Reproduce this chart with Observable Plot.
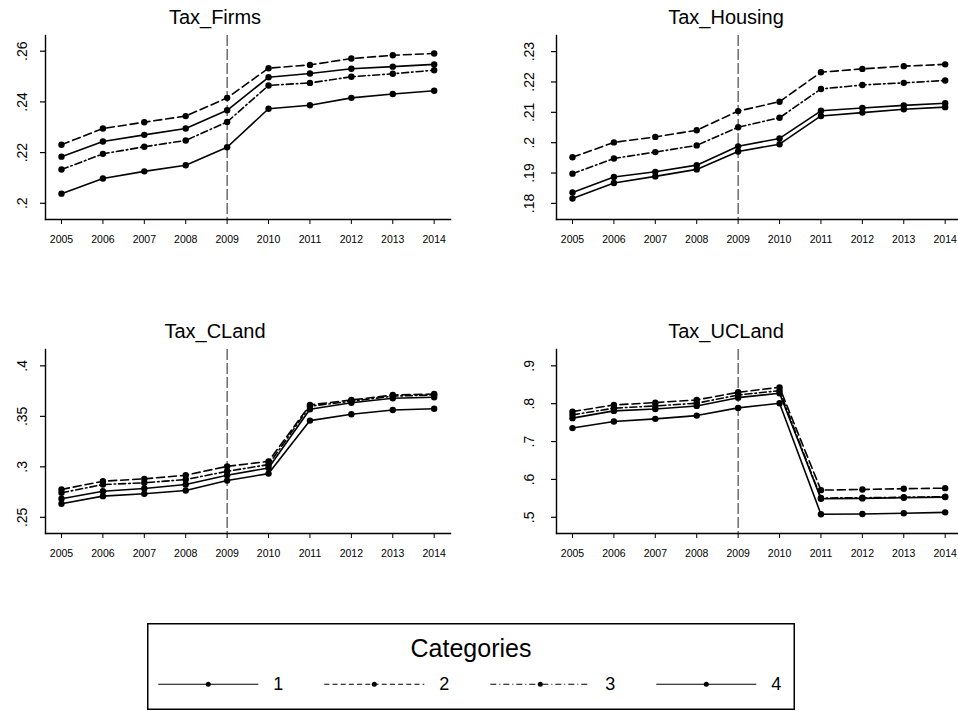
<!DOCTYPE html>
<html><head><meta charset="utf-8">
<script src="https://cdn.jsdelivr.net/npm/d3@7"></script>
<script src="https://cdn.jsdelivr.net/npm/@observablehq/plot@0.6"></script>
<style>
body{margin:0;background:#fff;}
#chart{position:relative;width:958px;height:711px;overflow:hidden;background:#fff;font-family:"Liberation Sans",Arial,Helvetica,sans-serif;}
.panel{position:absolute;}
#legend{position:absolute;left:147px;top:623px;width:648px;height:87px;}
</style></head><body><div id="chart"></div>
<script>
// ---- data ----
const years = [2005, 2006, 2007, 2008, 2009, 2010, 2011, 2012, 2013, 2014];
const categories = ["1", "2", "3", "4"];
const breakYear = 2009;
const legendTitle = "Categories";

const panelTitles = ["Tax_Firms", "Tax_Housing", "Tax_CLand", "Tax_UCLand"];

const firmsTicks = [0.2, 0.22, 0.24, 0.26];
const housingTicks = [0.18, 0.19, 0.2, 0.21, 0.22, 0.23];
const clandTicks = [0.25, 0.3, 0.35, 0.4];
const uclandTicks = [0.5, 0.6, 0.7, 0.8, 0.9];

const firms1 = [.2184,.2244,.2270,.2295,.2367,.2497,.2512,.2531,.2539,.2548];
const firms2 = [.2231,.2295,.2320,.2344,.2416,.2533,.2546,.2571,.2584,.2591];
const firms3 = [.2133,.2195,.2223,.2248,.2321,.2465,.2475,.2499,.2511,.2525];
const firms4 = [.2038,.2098,.2126,.2150,.2221,.2373,.2387,.2416,.2431,.2444];

const housing1 = [.1836,.1887,.1904,.1926,.1988,.2014,.2105,.2114,.2123,.2130];
const housing2 = [.1952,.2001,.2019,.2041,.2104,.2135,.2232,.2243,.2252,.2258];
const housing3 = [.1898,.1948,.1969,.1991,.2051,.2082,.2177,.2190,.2197,.2205];
const housing4 = [.1816,.1867,.1889,.1912,.1971,.1995,.2088,.2099,.2110,.2117];

const cland1 = [.2684,.2759,.2786,.2825,.2917,.2989,.3570,.3635,.3679,.3689];
const cland2 = [.2776,.2858,.2881,.2917,.3005,.3054,.3613,.3662,.3711,.3721];
const cland3 = [.2743,.2825,.2842,.2874,.2956,.3022,.3600,.3650,.3700,.3712];
const cland4 = [.2635,.2710,.2733,.2766,.2864,.2933,.3458,.3521,.3563,.3576];

const ucland1 = [.7618,.7810,.7860,.7941,.8159,.8275,.5491,.5499,.5517,.5533];
const ucland2 = [.7791,.7967,.8028,.8099,.8301,.8432,.5717,.5735,.5754,.5770];
const ucland3 = [.7705,.7881,.7941,.8012,.8230,.8343,.5510,.5515,.5530,.5545];
const ucland4 = [.7356,.7529,.7600,.7686,.7889,.8012,.5079,.5087,.5105,.5131];

// ---- styling / layout ----
const dashes = [null, "8,4", "7,3,1.5,3", null];
const font = '"Liberation Sans", Arial, Helvetica, sans-serif';

const panels = [
  {title: panelTitles[0], left: 0,     top: 0,     ticks: firmsTicks,   domain: [0.1936, 0.2662], labelDx: -23, series: [firms1, firms2, firms3, firms4]},
  {title: panelTitles[1], left: 510.7, top: 0,     ticks: housingTicks, domain: [0.1747, 0.2353], labelDx: -26.5, series: [housing1, housing2, housing3, housing4]},
  {title: panelTitles[2], left: 0,     top: 314.3, ticks: clandTicks,   domain: [0.2340, 0.4162], labelDx: -23, series: [cland1, cland2, cland3, cland4]},
  {title: panelTitles[3], left: 510.7, top: 314.3, ticks: uclandTicks,  domain: [0.4572, 0.9431], labelDx: -26.5, series: [ucland1, ucland2, ucland3, ucland4]}
];

const fmt = d => String(d).replace(/^0/, "");
const chart = document.getElementById("chart");

for (const p of panels) {
  const data = categories.flatMap((c, i) => years.map((yr, j) => ({year: yr, value: p.series[i][j], cat: c})));
  const lineMarks = categories.map((c, i) => Plot.line(data.filter(d => d.cat === c), {
    x: "year", y: "value", stroke: "#000", strokeWidth: 1.6,
    strokeDasharray: dashes[i] || undefined
  }));
  const svg = Plot.plot({
    width: 479, height: 270,
    marginLeft: 45, marginRight: 29, marginTop: 35, marginBottom: 51,
    style: {fontFamily: font, background: "transparent", overflow: "visible", color: "#000"},
    x: {domain: [2004.614, 2014.394], label: null},
    y: {domain: p.domain, label: null},
    marks: [
      Plot.ruleX([breakYear], {stroke: "#222", strokeWidth: 1, strokeDasharray: "11,3"}),
      Plot.frame({anchor: "left", stroke: "#000", strokeWidth: 1.4}),
      Plot.frame({anchor: "bottom", stroke: "#000", strokeWidth: 1.4}),
      Plot.axisX({ticks: years, tickFormat: d => String(d), tickSize: 5, tickPadding: 11, fontSize: 10.5, strokeWidth: 1, label: null}),
      Plot.axisY({ticks: p.ticks, tickSize: 5, tickFormat: () => "", strokeWidth: 1.2, label: null}),
      Plot.text(p.ticks, {y: d => d, frameAnchor: "left", dx: p.labelDx, rotate: -90, text: fmt,
        fontSize: 14, textAnchor: "middle", lineAnchor: "middle", fill: "#000"}),
      ...lineMarks,
      Plot.dot(data, {x: "year", y: "value", r: 3.2, fill: "#000", stroke: "none"}),
      Plot.text([p.title], {frameAnchor: "top", dy: -17.6, dx: -33, fontSize: 20, lineAnchor: "middle", fill: "#000"})
    ]
  });
  svg.classList.add("panel");
  svg.style.left = p.left + "px";
  svg.style.top = p.top + "px";
  chart.appendChild(svg);
}

// ---- legend ----
const leg = d3.create("svg").attr("id", "legend").attr("width", 648).attr("height", 87)
  .style("font-family", font);
leg.append("rect").attr("x", 0.75).attr("y", 0.75).attr("width", 646.5).attr("height", 85.5)
  .attr("fill", "#fff").attr("stroke", "#000").attr("stroke-width", 1.5);
leg.append("text").attr("x", 324).attr("y", 25).attr("text-anchor", "middle")
  .attr("dominant-baseline", "central").attr("font-size", 25).text(legendTitle);
categories.forEach((c, i) => {
  const x0 = 11.3 + 166 * i, y0 = 61.3;
  leg.append("line").attr("x1", x0).attr("x2", x0 + 100).attr("y1", y0).attr("y2", y0)
    .attr("stroke", "#000").attr("stroke-width", 1.1)
    .attr("stroke-dasharray", i === 1 ? "5,3.2" : i === 2 ? "6,3,1,3" : null);
  leg.append("circle").attr("cx", x0 + 50).attr("cy", y0).attr("r", 2.5).attr("fill", "#000");
  leg.append("text").attr("x", x0 + 120).attr("y", y0).attr("text-anchor", "middle")
    .attr("dominant-baseline", "central").attr("font-size", 18).text(c);
});
chart.appendChild(leg.node());
</script>
</body></html>
